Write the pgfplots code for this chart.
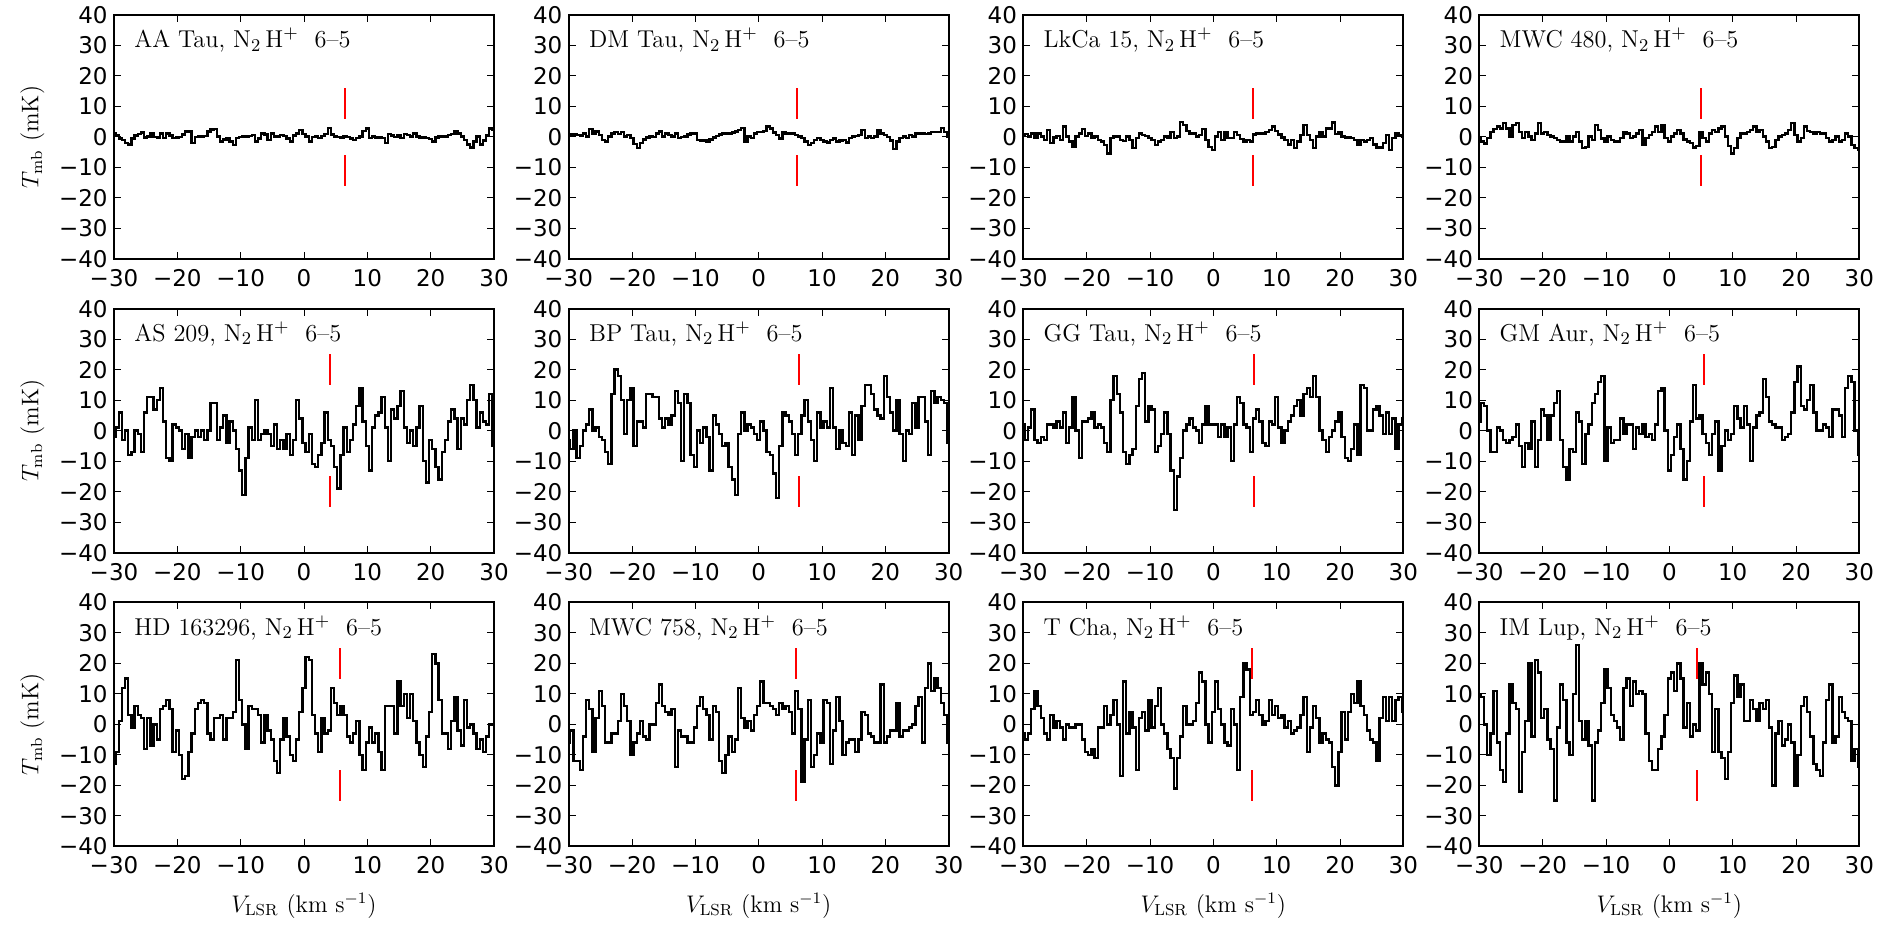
\documentclass[border=0pt]{standalone}
\usepackage{fontspec}
\usepackage{pgfplots}
\pgfplotsset{compat=1.18}
\newfontfamily\dejavu{DejaVu Sans}
\newcommand\tickfont{\dejavu\fontsize{11.5}{13}\selectfont}
\newcommand\labfont{\fontsize{12}{14}\selectfont}
\newcommand\ttl{\fontsize{12.2}{14}\selectfont}
\pgfplotsset{
  panel/.style={
    scale only axis, width=190pt, height=122pt, anchor=north west,
    xmin=-30, xmax=30, ymin=-40, ymax=40,
    xtick={-30,-20,-10,0,10,20,30}, ytick={-40,-30,-20,-10,0,10,20,30,40},
    xticklabels={−30,−20,−10,0,10,20,30},
    yticklabels={−40,−30,−20,−10,0,10,20,30,40},
    tick align=inside, major tick length=3.5pt,
    tick style={black, line width=0.5pt},
    axis line style={line width=1pt},
    ticklabel style={font=\tickfont},
    xticklabel style={anchor=north, inner sep=0pt, yshift=-5pt},
    yticklabel style={anchor=east, inner sep=0pt, xshift=-3pt},
    clip=false,
  },
  spec/.style={black, line width=1.2pt, const plot mark mid, mark=none},
  redmark/.style={red, line width=1pt, mark=none},
}
% #1 x, #2 y, #3 title, #4 vsys, #5 lo, #6 hi, #7 data
\newcommand\panel[7]{%
\begin{axis}[panel, at={(#1,#2)}]
\addplot[spec] coordinates {#7};
\addplot[redmark] coordinates {(#4,#5)(#4,#6)};
\addplot[redmark] coordinates {(#4,-#5)(#4,-#6)};
\node[anchor=base west, font=\ttl, inner sep=0pt] at (rel axis cs:0.0526,0.866) {#3, N$_2\,$H$^{+}$\ \ 6--5};
\end{axis}}
\begin{document}
\begin{tikzpicture}
\useasboundingbox (0,0) rectangle (944pt,-464.5pt);
% ---------- row 1 ----------
\panel{57pt}{-7.5pt}{AA Tau}{6.4}{6}{16}{
(-30,1.2)(-29.5,0.5)(-29,-0.5)(-28.5,-0.9)(-28,-2.0)(-27.5,-2.4)(-27,-0.5)(-26.5,0.5)(-26,1.0)(-25.5,1.5)
(-25,-0.2)(-24.5,0.2)(-24,1.2)(-23.5,0.0)(-23,-0.2)(-22.5,1.2)(-22,-0.3)(-21.5,1.2)(-21,0.5)(-20.5,-0.4)
(-20,-0.2)(-19.5,0.0)(-19,0.8)(-18.5,1.8)(-18,2.0)(-17.5,-2.0)(-17,0.0)(-16.5,0.1)(-16,0.2)(-15.5,0.4)
(-15,1.8)(-14.5,2.4)(-14,2.6)(-13.5,0.1)(-13,-1.5)(-12.5,-0.8)(-12,-0.4)(-11.5,-1.5)(-11,-2.6)(-10.5,-0.4)
(-10,0.0)(-9.5,0.1)(-9,0.2)(-8.5,0.4)(-8,0.6)(-7.5,-1.5)(-7,-0.5)(-6.5,1.2)(-6,0.8)(-5.5,-1.0)
(-5,1.2)(-4.5,0.2)(-4,0.1)(-3.5,0.6)(-3,0.3)(-2.5,-0.5)(-2,-1.5)(-1.5,0.5)(-1,1.2)(-0.5,2.3)
(0,1.0)(0.5,0.1)(1,-1.5)(1.5,0.0)(2,0.2)(2.5,-0.4)(3,0.3)(3.5,1.0)(4,3.0)(4.5,0.8)
(5,0.1)(5.5,0.0)(6,-0.4)(6.5,0.1)(7,0.0)(7.5,-0.5)(8,-1.0)(8.5,-0.4)(9,0.2)(9.5,2.0)
(10,2.8)(10.5,-0.4)(11,0.1)(11.5,-0.2)(12,-0.2)(12.5,-0.4)(13,-2.0)(13.5,1.0)(14,0.5)(14.5,0.0)
(15,0.6)(15.5,-0.4)(16,1.0)(16.5,0.6)(17,0.1)(17.5,1.2)(18,0.1)(18.5,-0.2)(19,-0.2)(19.5,-0.4)
(20,-0.6)(20.5,-1.5)(21,-0.2)(21.5,0.1)(22,0.1)(22.5,0.2)(23,0.6)(23.5,1.0)(24,1.8)(24.5,1.2)
(25,0.2)(25.5,-1.0)(26,-2.5)(26.5,-3.5)(27,-1.5)(27.5,0.1)(28,-2.5)(28.5,-1.2)(29,0.5)(29.5,2.8)
(30,2.2)}
\panel{284.35pt}{-7.5pt}{DM Tau}{6.1}{6}{16}{
(-30,0.5)(-29.5,0.8)(-29,1.0)(-28.5,0.6)(-28,0.5)(-27.5,1.2)(-27,0.2)(-26.5,2.6)(-26,1.0)(-25.5,1.8)
(-25,0.6)(-24.5,-1.0)(-24,-1.5)(-23.5,0.1)(-23,1.2)(-22.5,1.7)(-22,0.9)(-21.5,1.7)(-21,0.1)(-20.5,0.6)
(-20,-0.3)(-19.5,-2.3)(-19,-3.7)(-18.5,-2.0)(-18,-0.8)(-17.5,-0.2)(-17,0.2)(-16.5,-0.1)(-16,1.2)(-15.5,1.8)
(-15,0.2)(-14.5,1.2)(-14,0.6)(-13.5,0.2)(-13,1.2)(-12.5,-0.3)(-12,0.0)(-11.5,0.1)(-11,0.8)(-10.5,1.2)
(-10,1.2)(-9.5,-1.0)(-9,-1.2)(-8.5,-1.2)(-8,-1.5)(-7.5,-0.8)(-7,-0.2)(-6.5,0.3)(-6,0.8)(-5.5,1.2)
(-5,1.0)(-4.5,1.2)(-4,1.5)(-3.5,1.8)(-3,2.2)(-2.5,3.0)(-2,-1.5)(-1.5,0.1)(-1,-0.4)(-0.5,1.2)
(0,1.7)(0.5,1.7)(1,2.0)(1.5,3.4)(2,2.8)(2.5,1.5)(3,0.6)(3.5,-0.5)(4,1.7)(4.5,1.2)
(5,1.2)(5.5,1.2)(6,0.6)(6.5,0.2)(7,-0.4)(7.5,-1.5)(8,-2.6)(8.5,-2.0)(9,-1.0)(9.5,-0.4)
(10,-1.0)(10.5,-1.5)(11,-1.8)(11.5,-1.0)(12,-0.5)(12.5,-1.5)(13,-1.2)(13.5,-1.0)(14,-1.8)(14.5,-0.4)
(15,0.1)(15.5,0.3)(16,0.6)(16.5,2.3)(17,-0.4)(17.5,0.1)(18,-0.4)(18.5,0.1)(19,2.3)(19.5,1.2)
(20,0.6)(20.5,0.0)(21,-1.2)(21.5,-3.9)(22,-1.5)(22.5,-0.4)(23,0.1)(23.5,-0.4)(24,0.6)(24.5,0.1)
(25,1.2)(25.5,1.2)(26,1.2)(26.5,1.0)(27,1.2)(27.5,1.7)(28,1.7)(28.5,1.7)(29,3.0)(29.5,1.7)
(30,0.1)}
\panel{511.67pt}{-7.5pt}{LkCa 15}{6.3}{6}{16}{
(-30,0.3)(-29.5,1.0)(-29,0.1)(-28.5,1.2)(-28,-0.4)(-27.5,1.2)(-27,0.1)(-26.5,-1.0)(-26,2.3)(-25.5,-2.0)
(-25,-0.2)(-24.5,0.4)(-24,-1.0)(-23.5,3.4)(-23,0.1)(-22.5,-1.5)(-22,-3.2)(-21.5,0.1)(-21,1.2)(-20.5,2.6)
(-20,0.3)(-19.5,1.2)(-19,-0.4)(-18.5,0.1)(-18,-1.0)(-17.5,-1.5)(-17,-2.6)(-16.5,-5.4)(-16,-0.4)(-15.5,0.1)
(-15,0.2)(-14.5,-1.0)(-14,-1.4)(-13.5,0.1)(-13,-1.0)(-12.5,-3.7)(-12,-0.4)(-11.5,1.2)(-11,0.6)(-10.5,0.4)
(-10,-0.4)(-9.5,-1.0)(-9,-2.6)(-8.5,-1.5)(-8,-1.0)(-7.5,0.1)(-7,-0.4)(-6.5,1.7)(-6,-0.4)(-5.5,0.1)
(-5,5.0)(-4.5,4.0)(-4,2.0)(-3.5,1.2)(-3,1.2)(-2.5,0.1)(-2,0.6)(-1.5,2.6)(-1,-1.0)(-0.5,-3.2)
(0,-4.3)(0.5,0.1)(1,1.7)(1.5,-1.0)(2,1.7)(2.5,-0.4)(3,-0.4)(3.5,1.7)(4,0.6)(4.5,-0.6)
(5,-1.5)(5.5,-1.0)(6,-1.5)(6.5,0.8)(7,1.2)(7.5,1.2)(8,1.2)(8.5,1.7)(9,2.3)(9.5,3.4)
(10,2.0)(10.5,0.8)(11,-0.2)(11.5,-1.0)(12,-2.4)(12.5,-1.0)(13,-3.7)(13.5,-1.5)(14,0.6)(14.5,3.9)
(15,0.6)(15.5,-1.0)(16,-3.7)(16.5,0.1)(17,1.7)(17.5,0.1)(18,2.8)(18.5,2.8)(19,4.8)(19.5,1.0)
(20,1.7)(20.5,0.1)(21,-0.2)(21.5,-0.2)(22,-0.4)(22.5,-1.0)(23,-2.6)(23.5,-1.0)(24,-1.5)(24.5,-1.0)
(25,-0.4)(25.5,-2.4)(26,-3.5)(26.5,-3.5)(27,-2.0)(27.5,0.6)(28,-4.3)(28.5,-0.4)(29,1.2)(29.5,0.6)
(30,0.1)}
\panel{739.67pt}{-7.5pt}{MWC 480}{5.0}{6}{16}{
(-30,-0.5)(-29.5,-1.5)(-29,-2.2)(-28.5,-0.4)(-28,1.7)(-27.5,2.6)(-27,3.4)(-26.5,2.8)(-26,4.5)(-25.5,2.8)
(-25,0.1)(-24.5,3.9)(-24,4.5)(-23.5,1.7)(-23,-0.4)(-22.5,1.7)(-22,0.1)(-21.5,-1.0)(-21,1.2)(-20.5,4.5)
(-20,1.2)(-19.5,1.7)(-19,0.6)(-18.5,0.1)(-18,-0.4)(-17.5,-1.0)(-17,-1.5)(-16.5,-1.5)(-16,0.1)(-15.5,-1.5)
(-15,0.1)(-14.5,1.7)(-14,-1.5)(-13.5,-3.7)(-13,-3.2)(-12.5,0.1)(-12,-1.0)(-11.5,3.9)(-11,2.2)(-10.5,-0.5)
(-10,-1.5)(-9.5,0.1)(-9,-1.0)(-8.5,-1.5)(-8,-1.5)(-7.5,-0.4)(-7,1.7)(-6.5,1.2)(-6,-0.4)(-5.5,0.1)
(-5,1.2)(-4.5,2.3)(-4,-2.6)(-3.5,-0.4)(-3,0.6)(-2.5,1.7)(-2,3.4)(-1.5,1.7)(-1,3.9)(-0.5,-0.4)
(0,-1.5)(0.5,0.1)(1,1.2)(1.5,2.3)(2,1.2)(2.5,-0.8)(3,-1.5)(3.5,-2.0)(4,-3.5)(4.5,-3.0)
(5,1.7)(5.5,-0.4)(6,-1.5)(6.5,1.2)(7,2.3)(7.5,1.7)(8,2.8)(8.5,3.4)(9,0.1)(9.5,-3.0)
(10,-5.4)(10.5,-3.7)(11,-0.4)(11.5,1.2)(12,1.2)(12.5,1.7)(13,2.3)(13.5,3.4)(14,1.7)(14.5,2.3)
(15,0.1)(15.5,-1.5)(16,-3.7)(16.5,-3.2)(17,-1.0)(17.5,0.1)(18,0.6)(18.5,1.2)(19,2.3)(19.5,4.5)
(20,0.6)(20.5,-1.5)(21,-0.4)(21.5,3.4)(22,2.0)(22.5,1.7)(23,1.2)(23.5,1.7)(24,1.2)(24.5,1.2)
(25,-0.4)(25.5,-1.5)(26,-1.0)(26.5,0.1)(27,-1.5)(27.5,-1.0)(28,1.2)(28.5,0.1)(29,-2.6)(29.5,-3.7)
(30,-4.3)}
% ---------- row 2 ----------
\panel{57pt}{-154.35pt}{AS 209}{4.1}{15}{25}{
(-30,-2)(-29.5,1)(-29,6)(-28.5,-3)(-28,0)(-27.5,-8)(-27,-7)(-26.5,0)(-26,-1)(-25.5,-7)
(-25,6)(-24.5,11)(-24,11)(-23.5,7)(-23,10)(-22.5,14)(-22,3)(-21.5,-9)(-21,-10)(-20.5,2)
(-20,1)(-19.5,0)(-19,-6)(-18.5,-1)(-18,-9)(-17.5,-2)(-17,0)(-16.5,-2)(-16,0)(-15.5,-3)
(-15,0)(-14.5,9)(-14,9)(-13.5,-3)(-13,1)(-12.5,5)(-12,-4)(-11.5,3)(-11,0)(-10.5,-6)
(-10,-13)(-9.5,-21)(-9,-9)(-8.5,1)(-8,-3)(-7.5,10)(-7,-3)(-6.5,-1)(-6,0)(-5.5,-1)
(-5,-5)(-4.5,2)(-4,-6)(-3.5,-3)(-3,-6)(-2.5,-1)(-2,-8)(-1.5,-3)(-1,10)(-0.5,4)
(0,-4)(0.5,-7)(1,-1)(1.5,-11)(2,-12)(2.5,-8)(3,-4)(3.5,6)(4,-3)(4.5,-5)
(5,-12)(5.5,-19)(6,-8)(6.5,1)(7,-7)(7.5,-3)(8,2)(8.5,8)(9,14)(9.5,3)
(10,-5)(10.5,-13)(11,1)(11.5,5)(12,6)(12.5,11)(13,1)(13.5,-10)(14,7)(14.5,4)
(15,8)(15.5,13)(16,1)(16.5,-4)(17,0)(17.5,-5)(18,1)(18.5,8)(19,-10)(19.5,-17)
(20,-3)(20.5,-6)(21,-12)(21.5,-16)(22,-7)(22.5,-3)(23,3)(23.5,7)(24,4)(24.5,-6)
(25,4)(25.5,2)(26,10)(26.5,15)(27,10)(27.5,1)(28,6)(28.5,3)(29,2)(29.5,12)
(30,-5)}
\panel{284.35pt}{-154.35pt}{BP Tau}{6.3}{15}{25}{
(-30,-3)(-29.5,-6)(-29,0)(-28.5,-9)(-28,-5)(-27.5,0)(-27,2)(-26.5,7)(-26,0)(-25.5,1)
(-25,-2)(-24.5,-3)(-24,-7)(-23.5,-11)(-23,12)(-22.5,20)(-22,18)(-21.5,10)(-21,-1)(-20.5,10)
(-20,14)(-19.5,-5)(-19,3)(-18.5,3)(-18,1)(-17.5,12)(-17,12)(-16.5,11)(-16,11)(-15.5,4)
(-15,1)(-14.5,4)(-14,2)(-13.5,5)(-13,13)(-12.5,9)(-12,-10)(-11.5,12)(-11,9)(-10.5,-8)
(-10,-12)(-9.5,0)(-9,-4)(-8.5,1)(-8,-2)(-7.5,-13)(-7,5)(-6.5,2)(-6,-1)(-5.5,-5)
(-5,-4)(-4.5,-12)(-4,-16)(-3.5,-21)(-3,-1)(-2.5,6)(-2,0)(-1.5,2)(-1,1)(-0.5,-1)
(0,-3)(0.5,3)(1,0)(1.5,-7)(2,-8)(2.5,-14)(3,-22)(3.5,-5)(4,6)(4.5,5)
(5,3)(5.5,-1)(6,-8)(6.5,-1)(7,5)(7.5,10)(8,3)(8.5,-3)(9,-10)(9.5,6)
(10,1)(10.5,3)(11,1)(11.5,14)(12,1)(12.5,-6)(13,0)(13.5,-4)(14,-5)(14.5,6)
(15,-8)(15.5,5)(16,-3)(16.5,8)(17,15)(17.5,15)(18,12)(18.5,7)(19,5)(19.5,4)
(20,18)(20.5,11)(21,6)(21.5,0)(22,10)(22.5,-1)(23,-10)(23.5,0)(24,-1)(24.5,9)
(25,1)(25.5,11)(26,11)(26.5,3)(27,-8)(27.5,13)(28,9)(28.5,11)(29,10)(29.5,9)
(30,-4)}
\panel{511.67pt}{-154.35pt}{GG Tau}{6.4}{15}{25}{
(-30,2)(-29.5,-3)(-29,1)(-28.5,7)(-28,-3)(-27.5,-4)(-27,-2)(-26.5,-3)(-26,2)(-25.5,2)
(-25,1)(-24.5,3)(-24,1)(-23.5,6)(-23,-4)(-22.5,1)(-22,11)(-21.5,0)(-21,-9)(-20.5,3)
(-20,3)(-19.5,4)(-19,6)(-18.5,1)(-18,2)(-17.5,1)(-17,-4)(-16.5,-7)(-16,10)(-15.5,18)
(-15,12)(-14.5,6)(-14,-7)(-13.5,-11)(-13,-8)(-12.5,-6)(-12,8)(-11.5,17)(-11,19)(-10.5,3)
(-10,8)(-9.5,7)(-9,-7)(-8.5,-5)(-8,-1)(-7.5,6)(-7,-1)(-6.5,-13)(-6,-26)(-5.5,-15)
(-5,-9)(-4.5,0)(-4,2)(-3.5,4)(-3,1)(-2.5,0)(-2,-4)(-1.5,2)(-1,8)(-0.5,2)
(0,2)(0.5,2)(1,-2)(1.5,2)(2,-2)(2.5,1)(3,-10)(3.5,2)(4,11)(4.5,9)
(5,2)(5.5,1)(6,-7)(6.5,4)(7,7)(7.5,3)(8,-4)(8.5,-5)(9,3)(9.5,2)
(10,11)(10.5,1)(11,-4)(11.5,0)(12,3)(12.5,5)(13,8)(13.5,10)(14,5)(14.5,12)
(15,14)(15.5,11)(16,18)(16.5,11)(17,0)(17.5,-3)(18,-7)(18.5,-2)(19,0)(19.5,3)
(20,6)(20.5,-2)(21,-9)(21.5,-10)(22,-6)(22.5,2)(23,-8)(23.5,15)(24,14)(24.5,0)
(25,0)(25.5,7)(26,8)(26.5,5)(27,-1)(27.5,6)(28,-1)(28.5,4)(29,-6)(29.5,2)
(30,4)}
\panel{739.67pt}{-154.35pt}{GM Aur}{5.5}{15}{25}{
(-30,3)(-29.5,9)(-29,8)(-28.5,0)(-28,-7)(-27.5,-7)(-27,1)(-26.5,0)(-26,-3)(-25.5,-4)
(-25,-3)(-24.5,-2)(-24,2)(-23.5,-5)(-23,-12)(-22.5,-4)(-22,-6)(-21.5,3)(-21,-12)(-20.5,-3)
(-20,7)(-19.5,5)(-19,-3)(-18.5,5)(-18,9)(-17.5,13)(-17,-3)(-16.5,-12)(-16,-16)(-15.5,-6)
(-15,-7)(-14.5,6)(-14,3)(-13.5,-11)(-13,-1)(-12.5,2)(-12,9)(-11.5,12)(-11,16)(-10.5,18)
(-10,-10)(-9.5,1)(-9,-4)(-8.5,-3)(-8,-3)(-7.5,4)(-7,-1)(-6.5,2)(-6,2)(-5.5,-6)
(-5,1)(-4.5,-1)(-4,2)(-3.5,-2)(-3,-1)(-2.5,-3)(-2,2)(-1.5,13)(-1,14)(-0.5,0)
(0,-13)(0.5,-8)(1,-2)(1.5,2)(2,-6)(2.5,-16)(3,-10)(3.5,3)(4,15)(4.5,4)
(5,5)(5.5,-1)(6,-4)(6.5,-8)(7,-1)(7.5,3)(8,-13)(8.5,-5)(9,0)(9.5,-3)
(10,-1)(10.5,8)(11,4)(11.5,1)(12,8)(12.5,2)(13,-10)(13.5,1)(14,5)(14.5,6)
(15,17)(15.5,11)(16,3)(16.5,2)(17,1)(17.5,1)(18,-3)(18.5,-2)(19,-1)(19.5,6)
(20,16)(20.5,21)(21,8)(21.5,7)(22,10)(22.5,15)(23,6)(23.5,0)(24,0)(24.5,2)
(25,1)(25.5,-2)(26,7)(26.5,7)(27,5)(27.5,-2)(28,14)(28.5,18)(29,16)(29.5,0)
(30,-8)}
% ---------- row 3 ----------
\panel{57pt}{-301.17pt}{HD 163296}{5.7}{15}{25}{
(-30,-13)(-29.5,-9)(-29,1)(-28.5,12)(-28,15)(-27.5,3)(-27,-1)(-26.5,6)(-26,3)(-25.5,2)
(-25,-8)(-24.5,2)(-24,-7)(-23.5,0)(-23,-5)(-22.5,5)(-22,6)(-21.5,8)(-21,5)(-20.5,-9)
(-20,-2)(-19.5,-10)(-19,-18)(-18.5,-17)(-18,-9)(-17.5,-3)(-17,5)(-16.5,7)(-16,8)(-15.5,7)
(-15,-3)(-14.5,-5)(-14,2)(-13.5,2)(-13,3)(-12.5,-5)(-12,2)(-11.5,2)(-11,4)(-10.5,21)
(-10,8)(-9.5,0)(-9,-8)(-8.5,6)(-8,5)(-7.5,5)(-7,3)(-6.5,-6)(-6,3)(-5.5,-2)
(-5,-5)(-4.5,-12)(-4,-16)(-3.5,-5)(-3,2)(-2.5,-4)(-2,-10)(-1.5,-12)(-1,-5)(-0.5,4)
(0,12)(0.5,22)(1,21)(1.5,3)(2,-3)(2.5,-9)(3,2)(3.5,-3)(4,-2)(4.5,12)
(5,7)(5.5,3)(6,6)(6.5,3)(7,-4)(7.5,-6)(8,-3)(8.5,1)(9,-10)(9.5,-15)
(10,-6)(10.5,-1)(11,-6)(11.5,-3)(12,-9)(12.5,-15)(13,6)(13.5,6)(14,6)(14.5,-3)
(15,14)(15.5,6)(16,10)(16.5,2)(17,10)(17.5,1)(18,-6)(18.5,-10)(19,-14)(19.5,-4)
(20,4)(20.5,23)(21,20)(21.5,8)(22,-3)(22.5,-3)(23,-8)(23.5,1)(24,9)(24.5,-2)
(25,-7)(25.5,8)(26,-1)(26.5,0)(27,-3)(27.5,-8)(28,-5)(28.5,-9)(29,-4)(29.5,0)
(30,0)}
\panel{284.35pt}{-301.17pt}{MWC 758}{5.9}{15}{25}{
(-30,-6)(-29.5,-2)(-29,-12)(-28.5,-12)(-28,-15)(-27.5,-4)(-27,8)(-26.5,5)(-26,-9)(-25.5,2)
(-25,11)(-24.5,6)(-24,-6)(-23.5,-6)(-23,-3)(-22.5,-3)(-22,1)(-21.5,10)(-21,6)(-20.5,1)
(-20,-10)(-19.5,-6)(-19,-3)(-18.5,1)(-18,-4)(-17.5,-5)(-17,0)(-16.5,0)(-16,7)(-15.5,13)
(-15,6)(-14.5,4)(-14,3)(-13.5,5)(-13,-14)(-12.5,-2)(-12,-4)(-11.5,-4)(-11,-6)(-10.5,-6)
(-10,-1)(-9.5,6)(-9,9)(-8.5,5)(-8,3)(-7.5,-5)(-7,6)(-6.5,4)(-6,-12)(-5.5,-16)
(-5,-10)(-4.5,-4)(-4,-9)(-3.5,-5)(-3,12)(-2.5,2)(-2,-1)(-1.5,1)(-1,-2)(-0.5,3)
(0,6)(0.5,14)(1,7)(1.5,7)(2,6)(2.5,5)(3,3)(3.5,7)(4,5)(4.5,6)
(5,4)(5.5,-3)(6,11)(6.5,5)(7,-19)(7.5,-5)(8,8)(8.5,-14)(9,-10)(9.5,-3)
(10,-6)(10.5,8)(11,7)(11.5,-13)(12,-2)(12.5,9)(13,1)(13.5,-10)(14,-6)(14.5,-5)
(15,-5)(15.5,-9)(16,-5)(16.5,4)(17,3)(17.5,-3)(18,-4)(18.5,-6)(19,-6)(19.5,13)
(20,-6)(20.5,-4)(21,-2)(21.5,-2)(22,7)(22.5,-4)(23,-2)(23.5,-2)(24,-1)(24.5,0)
(25,6)(25.5,9)(26,-6)(26.5,12)(27,20)(27.5,11)(28,15)(28.5,12)(29,7)(29.5,3)
(30,-6)}
\panel{511.67pt}{-301.17pt}{T Cha}{6.1}{15}{25}{
(-30,-3)(-29.5,-5)(-29,-3)(-28.5,5)(-28,11)(-27.5,6)(-27,2)(-26.5,-3)(-26,-5)(-25.5,3)
(-25,-1)(-24.5,1)(-24,-1)(-23.5,-5)(-23,0)(-22.5,-1)(-22,-1)(-21.5,0)(-21,0)(-20.5,-5)
(-20,-9)(-19.5,-10)(-19,-8)(-18.5,-11)(-18,-1)(-17.5,-1)(-17,6)(-16.5,0)(-16,3)(-15.5,8)
(-15,0)(-14.5,-17)(-14,14)(-13.5,-3)(-13,4)(-12.5,-1)(-12,-15)(-11.5,2)(-11,4)(-10.5,-2)
(-10,8)(-9.5,-1)(-9,6)(-8.5,12)(-8,0)(-7.5,-3)(-7,-8)(-6.5,-11)(-6,-21)(-5.5,-11)
(-5,-4)(-4.5,6)(-4,0)(-3.5,0)(-3,1)(-2.5,7)(-2,17)(-1.5,14)(-1,0)(-0.5,-6)
(0,4)(0.5,14)(1,5)(1.5,0)(2,-6)(2.5,-7)(3,5)(3.5,0)(4,-15)(4.5,9)
(5,20)(5.5,18)(6,3)(6.5,4)(7,8)(7.5,3)(8,0)(8.5,1)(9,8)(9.5,3)
(10,6)(10.5,2)(11,3)(11.5,-1)(12,1)(12.5,-3)(13,-2)(13.5,-1)(14,3)(14.5,9)
(15,-9)(15.5,-1)(16,6)(16.5,2)(17,-6)(17.5,-3)(18,-5)(18.5,-6)(19,-14)(19.5,-20)
(20,-9)(20.5,4)(21,-5)(21.5,4)(22,10)(22.5,7)(23,14)(23.5,6)(24,3)(24.5,-2)
(25,-5)(25.5,-6)(26,-12)(26.5,2)(27,9)(27.5,1)(28,9)(28.5,1)(29,8)(29.5,9)
(30,4)}
\panel{739.67pt}{-301.17pt}{IM Lup}{4.4}{15}{25}{
(-30,10)(-29.5,9)(-29,0)(-28.5,-10)(-28,-3)(-27.5,11)(-27,-6)(-26.5,-15)(-26,-19)(-25.5,-3)
(-25,13)(-24.5,7)(-24,5)(-23.5,-22)(-23,-9)(-22.5,1)(-22,20)(-21.5,-4)(-21,21)(-20.5,17)
(-20,2)(-19.5,5)(-19,-5)(-18.5,-8)(-18,-25)(-17.5,-1)(-17,13)(-16.5,8)(-16,-6)(-15.5,-10)
(-15,10)(-14.5,26)(-14,1)(-13.5,-5)(-13,1)(-12.5,-7)(-12,-25)(-11.5,-6)(-11,-2)(-10.5,7)
(-10,18)(-9.5,12)(-9,3)(-8.5,1)(-8,-1)(-7.5,-5)(-7,12)(-6.5,15)(-6,6)(-5.5,14)
(-5,10)(-4.5,11)(-4,10)(-3.5,-3)(-3,-12)(-2.5,-15)(-2,-15)(-1.5,-8)(-1,-4)(-0.5,3)
(0,15)(0.5,17)(1,11)(1.5,20)(2,15)(2.5,-1)(3,7)(3.5,-4)(4,0)(4.5,-2)
(5,20)(5.5,13)(6,17)(6.5,10)(7,-9)(7.5,5)(8,-9)(8.5,-11)(9,-18)(9.5,-9)
(10,7)(10.5,16)(11,9)(11.5,13)(12,1)(12.5,1)(13,8)(13.5,5)(14,1)(14.5,7)
(15,5)(15.5,8)(16,-1)(16.5,-20)(17,-3)(17.5,1)(18,-7)(18.5,-5)(19,0)(19.5,-6)
(20,-20)(20.5,-10)(21,6)(21.5,9)(22,4)(22.5,-4)(23,-13)(23.5,-15)(24,-17)(24.5,-6)
(25,8)(25.5,13)(26,-6)(26.5,-4)(27,9)(27.5,4)(28,2)(28.5,1)(29,-12)(29.5,-8)
(30,-14)}
% ---------- axis labels ----------
\foreach \yy in {-68.5pt,-215.35pt,-362.15pt}
  \node[rotate=90, font=\labfont] at (16.25pt,\yy) {$T_{\mathrm{mb}}$ (mK)};
\foreach \xx in {152pt,379.35pt,606.65pt,834.65pt}
  \node[anchor=base, font=\labfont] at (\xx,-456.15pt) {$V_{\mathrm{LSR}}$ (km s$^{-1}$)};
\end{tikzpicture}
\end{document}
